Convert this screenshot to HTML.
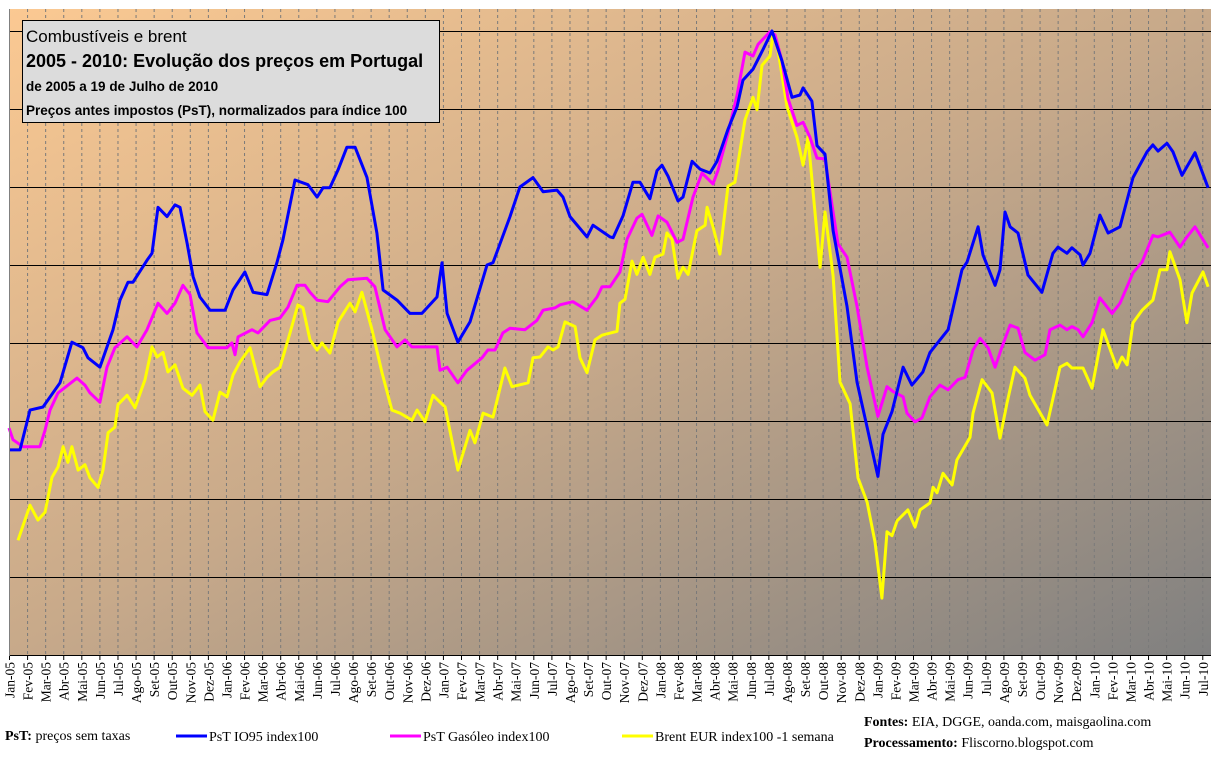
<!DOCTYPE html>
<html><head><meta charset="utf-8"><style>
body{margin:0;background:#fff;width:1212px;height:755px;overflow:hidden;font-family:"Liberation Serif",serif}
svg text{font-family:"Liberation Serif",serif}
</style></head><body>
<svg id="c" width="1212" height="755" xmlns="http://www.w3.org/2000/svg">
<defs><linearGradient id="bg" x1="0" y1="0" x2="1" y2="1"><stop offset="0" stop-color="#fbc992"/><stop offset="0.5" stop-color="#c7a98a"/><stop offset="1" stop-color="#808080"/></linearGradient></defs>
<rect x="9" y="9" width="1202" height="646" fill="url(#bg)"/>
<g id="grid"></g><g id="series"></g><g id="axis"></g>
<g>
<rect x="22.5" y="20.5" width="417" height="102" fill="#dcdcdc" stroke="#000"/>
<text x="26" y="42" font-size="17" style="font-family:'Liberation Sans',sans-serif">Combustíveis e brent</text>
<text x="26" y="67" font-size="18" font-weight="bold" style="font-family:'Liberation Sans',sans-serif">2005 - 2010: Evolução dos preços em Portugal</text>
<text x="26" y="91" font-size="13.5" font-weight="bold" style="font-family:'Liberation Sans',sans-serif">de 2005 a 19 de Julho de 2010</text>
<text x="26" y="115" font-size="13.5" font-weight="bold" style="font-family:'Liberation Sans',sans-serif">Preços antes impostos (PsT), normalizados para índice 100</text>
</g>
<g font-size="14">
<text x="5" y="740"><tspan font-weight="bold">PsT:</tspan> preços sem taxas</text>
<line x1="176" y1="736" x2="207" y2="736" stroke="#0000ff" stroke-width="3"/>
<text x="209" y="741">PsT IO95 index100</text>
<line x1="390" y1="736" x2="421" y2="736" stroke="#ff00ff" stroke-width="3"/>
<text x="423" y="741">PsT Gasóleo index100</text>
<line x1="622" y1="736" x2="653" y2="736" stroke="#ffff00" stroke-width="3"/>
<text x="655" y="741">Brent EUR index100 -1 semana</text>
<text x="864" y="726"><tspan font-weight="bold">Fontes:</tspan> EIA, DGGE, oanda.com, maisgaolina.com</text>
<text x="864" y="747"><tspan font-weight="bold">Processamento:</tspan> Fliscorno.blogspot.com</text>
</g>
</svg>
<script>
const months=["Jan","Fev","Mar","Abr","Mai","Jun","Jul","Ago","Set","Out","Nov","Dez"];
const yearLabels=["05","06","07","08","09","10"];
const gridValues=[70,80,90,100,110,120,130,140];
const io95T=[0,.61,1.16,1.88,2.82,3.48,4.09,4.37,5.03,5.75,6.14,6.58,6.86,7.63,7.91,8.24,8.74,9.18,9.46,9.85,10.18,10.56,11.12,11.95,12.39,13.05,13.5,14.27,14.82,15.15,15.82,16.54,17.04,17.37,17.75,18.2,18.69,19.14,19.8,20.35,20.69,21.46,22.18,22.84,23.67,23.95,24.23,24.83,25.5,26.44,26.77,27.71,28.26,28.98,29.54,30.31,30.64,31.03,31.97,32.3,33.24,33.41,33.96,34.51,34.9,35.45,35.84,36.12,36.45,37,37.28,37.78,38.22,38.77,39.16,39.77,40.27,40.6,41.15,41.7,42.2,42.75,43.31,43.75,43.92,44.41,44.69,45.13,45.58,46.35,46.9,47.46,48.06,48.34,48.84,49.45,49.94,50.55,50.94,51.94,52.71,52.99,53.6,53.87,54.54,54.81,55.09,55.37,55.81,56.36,57.13,57.74,58.02,58.52,58.79,59.24,59.4,59.79,60.34,60.79,61.45,62.17,62.94,63.27,63.55,64.05,64.38,64.88,65.6,66.32];
const io95V=[86.3,86.3,91.4,91.8,94.9,100.1,99.4,98.1,96.9,101.7,105.5,107.8,107.8,110.6,111.5,117.4,116.2,117.7,117.4,112.8,108.5,105.9,104.2,104.2,106.8,109.1,106.5,106.2,110.3,113.2,120.9,120.3,118.7,119.9,119.9,122.2,125.1,125.1,121.2,114.1,106.8,105.5,103.8,103.8,105.9,110.3,103.8,100.1,102.7,110,110.3,116.2,120,121.2,119.4,119.6,118.7,116.2,113.6,115.1,113.6,113.5,116.3,120.6,120.6,118.5,122.1,122.8,121.4,118.2,118.7,123.3,122.3,121.8,123.3,127.4,130.3,133.7,135.1,137.6,140,136.2,131.5,131.8,132.7,131,125.3,124.2,114.4,104.7,95,89.2,82.9,88.3,91.2,96.9,94.6,96.3,98.8,101.7,109.4,110.4,114.9,111.3,107.4,109.4,116.8,114.9,114.1,108.7,106.5,111.5,112.3,111.5,112.2,111.3,110,111.5,116.4,114.1,114.9,121.2,124.5,125.4,124.6,125.6,124.5,121.5,124.4,119.9];
const gasT=[0,.22,.77,1.71,1.99,2.27,2.71,3.76,4.2,4.48,5.03,5.42,5.86,6.53,7.08,7.63,8.24,8.74,9.18,9.62,10.01,10.4,11.01,12.06,12.33,12.5,12.67,13.44,13.77,14.44,14.99,15.43,15.93,16.37,16.65,17.04,17.64,18.31,18.75,19.8,20.24,20.8,21.46,21.9,22.29,23.67,23.84,24.23,24.83,25.33,26.16,26.49,26.88,27.32,27.71,28.54,29.2,29.54,30.2,30.48,31.19,31.97,32.52,32.8,33.24,33.79,34.18,34.73,35.01,35.56,35.9,36.39,36.95,37.28,37.83,38.33,38.94,39.21,39.77,40.27,40.71,41.15,41.43,42.09,42.37,42.75,43.09,43.58,43.92,44.3,44.69,45.13,45.52,45.85,46.35,46.9,47.46,48.06,48.56,48.89,49.45,49.67,50.11,50.5,50.94,51.49,51.94,52.49,52.88,53.32,53.71,54.15,54.54,54.92,55.37,55.81,56.19,56.75,57.3,57.58,58.13,58.52,58.79,59.13,59.4,59.9,60.34,61.01,61.45,62.17,62.67,63.27,63.55,64.21,64.77,65.15,65.6,66.32];
const gasV=[89.1,87.6,86.7,86.7,88.8,91.4,93.6,95.5,94.6,93.6,92.4,96.9,99.4,100.8,99.5,101.7,105.1,103.8,105.1,107.4,106.2,101.3,99.4,99.4,100,98.5,100.8,101.7,101.3,102.9,103.2,104.6,107.4,107.4,106.5,105.5,105.3,107.2,108.1,108.3,107.2,101.7,99.5,100.4,99.5,99.5,96.5,96.9,94.9,96.5,98.1,99.1,99.1,101.3,101.9,101.7,102.9,104.2,104.5,104.9,105.3,104.2,105.9,107.2,107.2,109.1,113.3,116,116.5,113.8,116.3,115.5,112.9,113.3,118.7,121.8,120.4,122.1,126.9,131.8,137.3,136.8,138.3,139.9,139.5,136.2,131.3,127.9,128.3,126.4,123.7,123.6,117.7,112.7,111,104.7,96.9,90.6,94.4,93.8,93.1,91,89.9,90.4,93.1,94.6,94,95.3,95.6,99.1,100.6,99.4,96.9,99.5,102.3,101.9,98.8,97.8,98.5,101.7,102.3,101.7,102.1,101.7,100.8,102.6,105.8,103.8,105.1,109,110.4,113.8,113.6,114.2,112.3,113.6,114.9,112.2];
const brentT=[.5,1.16,1.6,1.99,2.38,2.71,2.99,3.26,3.48,3.82,4.2,4.48,4.92,5.2,5.48,5.86,6.03,6.53,6.97,7.52,7.91,8.19,8.52,8.79,9.18,9.62,10.12,10.56,10.84,11.28,11.67,12.06,12.39,12.78,13.33,13.88,14.27,14.6,14.99,15.54,15.98,16.26,16.65,17.04,17.31,17.75,18.2,18.86,19.14,19.52,20.08,20.63,21.18,21.63,22.29,22.57,23.01,23.45,24.12,24.83,25.5,25.77,26.22,26.77,27.43,27.82,28.71,28.98,29.37,29.81,30.09,30.37,30.75,31.31,31.58,31.97,32.41,32.8,33.63,33.79,34.07,34.46,34.73,35.07,35.45,35.73,36.17,36.39,36.67,37,37.28,37.56,38.05,38.5,38.61,38.94,39.32,39.77,40.15,40.71,41.15,41.37,41.65,42.09,42.26,42.53,43.03,43.58,43.92,44.19,44.86,45.13,45.58,45.96,46.52,46.96,47.46,47.9,48.28,48.56,48.84,49.12,49.72,50.11,50.39,50.94,51.11,51.33,51.66,52.16,52.43,53.15,53.32,53.82,54.37,54.81,55.2,55.64,56.19,56.47,57.41,58.13,58.52,58.79,59.4,59.9,60.51,61.28,61.56,61.84,62.17,62.67,63.27,63.66,64.05,64.21,64.77,65.15,65.43,66.04,66.32];
const brentV=[74.7,79.2,77.3,78.3,82.8,84.1,86.7,84.7,86.7,83.7,84.4,82.7,81.5,83.7,88.5,89.2,92.1,93.3,91.7,95.3,99.5,98.2,98.8,96.3,97.2,94.2,93.3,94.6,91.2,90.1,93.7,93.1,95.9,97.6,99.4,94.4,95.6,96.3,96.9,101.3,104.9,104.5,100.4,99.1,100,98.7,102.7,105.1,104,106.5,101.7,96.2,91.4,91,90.1,91.4,89.9,93.3,91.8,83.7,88.8,87.2,91,90.5,96.8,94.4,94.9,98.1,98.2,99.5,99.1,99.5,102.7,102.1,98.1,96.2,100.4,101,101.5,105.1,105.6,110.5,108.8,111,108.8,111,111.4,114.1,113.3,108.3,109.7,108.8,114.4,115.1,117.4,114.9,111.4,120.1,120.6,128.6,131.5,129.9,135.6,136.8,139.7,137.6,130.3,126.4,122.8,126.4,109.7,116.8,108.6,95,92.2,82.7,79.6,74.5,67.3,75.8,75.3,77.2,78.6,76.4,78.6,79.5,81.5,80.8,83.3,81.8,85,87.9,91,95.3,93.6,87.8,92.3,96.9,95.5,93.3,89.5,96.9,97.4,96.8,96.8,94.2,101.7,96.8,98.2,97.2,102.6,104.2,105.5,109.4,109.4,111.7,108.1,102.6,106.4,109.1,107.2];

const NS="http://www.w3.org/2000/svg";
const X0=9,DX=18.08,YB=655,PX=7.8,V0=60;
function xs(t){return X0+DX*t;}
function ys(v){return YB-(v-V0)*PX;}
function mk(tag,attrs,parent){const e=document.createElementNS(NS,tag);for(const k in attrs)e.setAttribute(k,attrs[k]);parent.appendChild(e);return e;}
const grid=document.getElementById('grid'),axis=document.getElementById('axis'),ser=document.getElementById('series');
const nMonths=months.length*yearLabels.length;
const labels=[];
for(let i=0;i<nMonths;i++){const y=Math.floor(i/12);const m=i%12;if(y==5&&m>6)break;labels.push(months[m]+"-"+yearLabels[y]);}
labels.forEach((lab,i)=>{
 const x=xs(i)+0.5;
 if(i>0){const l=mk('line',{x1:x,y1:9,x2:x,y2:655,stroke:'#7a7a7a','stroke-dasharray':'3,3','stroke-width':1},grid);
 
 }
 const tk=mk('line',{x1:x,y1:655,x2:x,y2:660,stroke:'#000'},axis);
 
 
 const t=mk('text',{x:0,y:0,'font-size':13.5,'text-anchor':'end',transform:`translate(${x+5},${662}) rotate(-90)`},axis);
 t.textContent=lab;
 
 
});
gridValues.forEach(v=>{const y=Math.round(ys(v))+0.5;const l=mk('line',{x1:9,y1:y,x2:1211,y2:y,stroke:'#000','stroke-width':1},grid);
 
 });
const ax=mk('line',{x1:9,y1:655.5,x2:1211,y2:655.5,stroke:'#000'},axis);


const ay=mk('line',{x1:9.5,y1:9,x2:9.5,y2:656,stroke:'#808080'},axis);


function line(T,V,color,name){
 const d=T.map((t,i)=>(i?'L':'M')+xs(t).toFixed(1)+','+ys(V[i]).toFixed(1)).join('');
 const p=mk('path',{d:d,fill:'none',stroke:color,'stroke-width':3,'stroke-linejoin':'round'},ser);
 
 
}
line(brentT,brentV,'#ffff00','brent-line');
line(gasT,gasV,'#ff00ff','gasoleo-line');
line(io95T,io95V,'#0000ff','io95-line');
</script>
</body></html>
